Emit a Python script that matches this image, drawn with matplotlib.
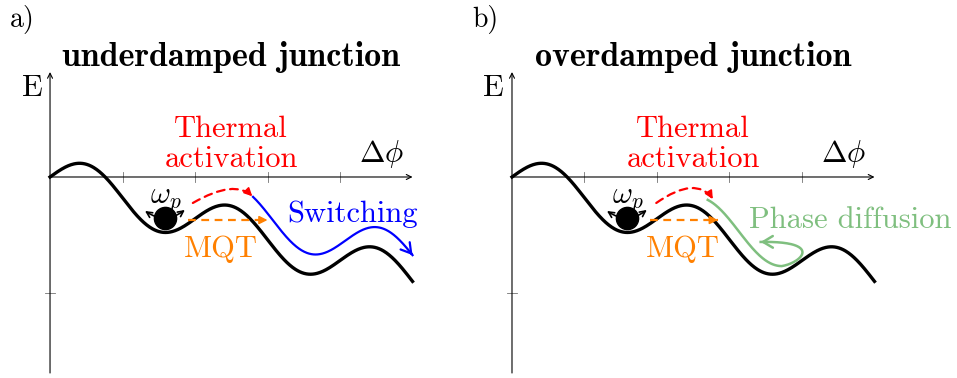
import numpy as np
import matplotlib.pyplot as plt
from matplotlib.patches import FancyArrowPatch

plt.rcParams["mathtext.fontset"] = "cm"
plt.rcParams["font.family"] = "serif"
plt.rcParams["font.serif"] = ["cmr10"]
plt.rcParams["axes.unicode_minus"] = False

# tilted washboard U(phi) = AMPLITUDE * sin(pi * phi) - TILT * phi
AMPLITUDE = 0.2
TILT = 0.18
PHI_MAX = 5.0
E_TOP = 0.905
E_BOTTOM = -1.69
X_TICKS = [1, 2, 3, 4]
Y_TICKS = [-1]

PANEL_LABELS = ["a)", "b)"]
PANEL_TITLES = ["underdamped junction", "overdamped junction"]
PANEL_XLIM = [(-0.690, 5.910), (-0.462, 6.138)]
YLIM = (-1.733, 1.526)

# particle sitting in the first well
BALL = (1.59, -0.355)
OSC_LEFT = (1.31, -0.293)
OSC_RIGHT = (1.86, -0.284)

# escape paths: (start, end) per panel
THERMAL = [((1.97, -0.224), (2.79, -0.166)), ((1.99, -0.224), (2.77, -0.19))]
THERMAL_ANGLES = [(30, -45), (35, -55)]
MQT = [((1.90, -0.371), (3.00, -0.371)), ((1.90, -0.371), (2.84, -0.371))]

# running state (panel a): shifted copy of the potential
SWITCH_RANGE = (2.80, 5.0)
SWITCH_SHIFT = (0.07, 0.17)

# phase diffusion (panel b): slide down one period, then retrap
DIFFUSION_RANGE = (2.70, 3.72)
DIFFUSION_SHIFT = (0.13, 0.07)
RETRAP_CTRL = [(4.00, -0.74), (4.30, -0.55), (3.43, -0.56)]

RED = "#ff0000"
ORANGE = "#ff8000"
BLUE = "#0000ff"
GREEN = "#7fbf7f"
FS = 22


def washboard(phi):
    return AMPLITUDE * np.sin(np.pi * phi) - TILT * phi


def head(ax, tip, back, color, style="-|>", scale=12, lw=1.2):
    ax.annotate("", xy=tip, xytext=back, textcoords="offset points",
                arrowprops=dict(arrowstyle=style, color=color, lw=lw,
                                mutation_scale=scale, shrinkA=0, shrinkB=0))


def draw_panel(ax, idx):
    ax.set_xlim(*PANEL_XLIM[idx])
    ax.set_ylim(*YLIM)
    ax.set_axis_off()

    # axes with arrow tips
    axis_arrow = dict(arrowstyle="->", lw=0.8, color="black",
                      mutation_scale=9, shrinkA=0, shrinkB=0)
    ax.annotate("", xy=(PHI_MAX, 0), xytext=(0, 0), arrowprops=axis_arrow)
    ax.annotate("", xy=(0, E_TOP), xytext=(0, E_BOTTOM), arrowprops=axis_arrow)
    for t in X_TICKS:
        ax.plot([t, t], [-0.045, 0.045], color="0.45", lw=0.6)
    for t in Y_TICKS:
        ax.plot([-0.07, 0.07], [t, t], color="0.45", lw=0.6)
    ax.text(-0.25, 0.70, "E", fontsize=FS, ha="center", va="baseline")
    ax.text(4.57, 0.13, r"$\Delta\phi$", fontsize=FS, ha="center", va="baseline")

    phi = np.linspace(0, PHI_MAX, 500)
    ax.plot(phi, washboard(phi), color="black", lw=2.4, zorder=3)

    # thermal activation over the barrier
    (a, b), (ang_a, ang_b) = THERMAL[idx], THERMAL_ANGLES[idx]
    ax.add_patch(FancyArrowPatch(a, b, arrowstyle="-",
                                 connectionstyle=f"angle3,angleA={ang_a},angleB={ang_b}",
                                 color=RED, lw=1.6, linestyle=(0, (3.5, 2.5)),
                                 shrinkA=0, shrinkB=0, zorder=4))
    head(ax, b, (-4, 4) if idx == 0 else (-3, 5), RED)
    ax.text(2.50, 0.345, "Thermal", fontsize=FS, color=RED, ha="center", va="baseline")
    ax.text(2.50, 0.086, "activation", fontsize=FS, color=RED, ha="center", va="baseline")

    # tunnelling through the barrier
    a, b = MQT[idx]
    ax.plot([a[0], b[0]], [a[1], b[1]], color=ORANGE, lw=1.6,
            linestyle=(0, (3.5, 2.5)), zorder=4)
    head(ax, b, (-6, 0), ORANGE)
    ax.text(2.36, -0.69, "MQT", fontsize=FS, color=ORANGE, ha="center", va="baseline")

    # particle and plasma oscillation
    ax.add_patch(FancyArrowPatch(OSC_LEFT, OSC_RIGHT, arrowstyle="<->",
                                 connectionstyle="arc3,rad=0.35", color="black",
                                 lw=1.2, mutation_scale=10, shrinkA=0, shrinkB=0,
                                 zorder=5))
    ax.plot(*BALL, "o", color="black", markersize=16, zorder=6)
    ax.text(1.60, -0.224, r"$\omega_p$", fontsize=FS, ha="center", va="baseline", zorder=7)

    ax.text(2.50, 0.957, PANEL_TITLES[idx], fontsize=24.5, family="cmb10",
            ha="center", va="baseline")
    ax.text(-0.55, 1.29, PANEL_LABELS[idx], fontsize=FS - 2, ha="left", va="baseline")


fig = plt.figure(figsize=(9.57, 3.78), dpi=100)
ax_a = fig.add_axes([0, 0, 0.5, 1])
ax_b = fig.add_axes([0.5, 0, 0.5, 1])
draw_panel(ax_a, 0)
draw_panel(ax_b, 1)

# panel a: switching to the running state
phi_s = np.linspace(*SWITCH_RANGE, 300)
e_s = washboard(phi_s - SWITCH_SHIFT[0]) + SWITCH_SHIFT[1]
ax_a.plot(phi_s, e_s, color=BLUE, lw=1.6, zorder=4)
ax_a.annotate("", xy=(phi_s[-1], e_s[-1]), xytext=(phi_s[-4], e_s[-4]),
              arrowprops=dict(arrowstyle="->,head_length=0.5,head_width=0.3",
                              color=BLUE, lw=1.6, mutation_scale=14,
                              shrinkA=0, shrinkB=0))
ax_a.text(4.17, -0.388, "Switching", fontsize=FS, color=BLUE, ha="center", va="baseline")

# panel b: phase diffusion, sliding down and getting retrapped
phi_d = np.linspace(*DIFFUSION_RANGE, 200)
e_d = washboard(phi_d - DIFFUSION_SHIFT[0]) + DIFFUSION_SHIFT[1]
p0 = np.array([phi_d[-1], e_d[-1]])
p1, p2, p3 = (np.array(p) for p in RETRAP_CTRL)
t = np.linspace(0, 1, 100)[:, None]
hook = ((1 - t) ** 3) * p0 + 3 * ((1 - t) ** 2) * t * p1 + 3 * (1 - t) * t ** 2 * p2 + t ** 3 * p3
ax_b.plot(np.r_[phi_d, hook[:, 0]], np.r_[e_d, hook[:, 1]], color=GREEN, lw=1.8, zorder=4)
ax_b.annotate("", xy=tuple(hook[-1]), xytext=tuple(hook[-4]),
              arrowprops=dict(arrowstyle="->,head_length=0.5,head_width=0.3",
                              color=GREEN, lw=1.8, mutation_scale=14,
                              shrinkA=0, shrinkB=0))
ax_b.text(4.66, -0.44, "Phase diffusion", fontsize=FS, color=GREEN, ha="center", va="baseline")

fig.savefig("out.png", dpi=100)
